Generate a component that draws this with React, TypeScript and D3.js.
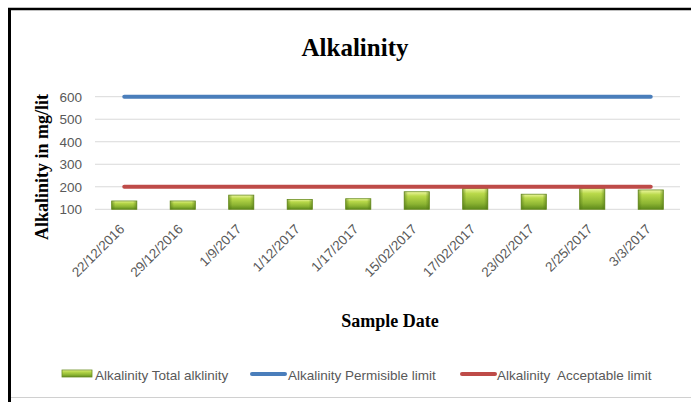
import React from "react";
import * as d3 from "d3";

const categories = [
  "22/12/2016", "29/12/2016", "1/9/2017", "1/12/2017", "1/17/2017",
  "15/02/2017", "17/02/2017", "23/02/2017", "2/25/2017", "3/3/2017",
];
const totalAlkalinity = [137, 137, 163, 144, 147, 178, 193, 167, 193, 186];
const permissibleLimit = [600, 600, 600, 600, 600, 600, 600, 600, 600, 600];
const acceptableLimit = [200, 200, 200, 200, 200, 200, 200, 200, 200, 200];
const yTicks = [100, 200, 300, 400, 500, 600];
const legendLabels = [
  "Alkalinity Total alklinity",
  "Alkalinity Permisible limit",
  "Alkalinity  Acceptable limit",
];

const W = 691;
const H = 402;
const plot = { left: 95, right: 680, top: 96.7, bottom: 209.3 };
const sans = "'Liberation Sans', Arial, sans-serif";
const serif = "'Liberation Serif', 'Times New Roman', serif";

export default function App() {
  const x = d3.scaleBand<string>().domain(categories).range([plot.left, plot.right]);
  const y = d3.scaleLinear().domain([100, 600]).range([plot.bottom, plot.top]);
  const bw = x.bandwidth() * 0.43;
  const cx = (c: string) => (x(c) as number) + x.bandwidth() / 2;

  const line = d3
    .line<number>()
    .x((_, i) => cx(categories[i]))
    .y((d) => y(d));

  return (
    <svg
      width={W}
      height={H}
      style={{ position: "absolute", left: 0, top: 0, background: "#fff" }}
    >
      <defs>
        <linearGradient id="barGrad" x1="0" y1="0" x2="0" y2="1">
          <stop offset="0%" stopColor="#eef7a0" />
          <stop offset="25%" stopColor="#b9d94a" />
          <stop offset="70%" stopColor="#8cb432" />
          <stop offset="100%" stopColor="#5e8a1c" />
        </linearGradient>
        <linearGradient id="barSide" x1="0" y1="0" x2="1" y2="0">
          <stop offset="0%" stopColor="#4f7414" stopOpacity="0.55" />
          <stop offset="15%" stopColor="#4f7414" stopOpacity="0" />
          <stop offset="85%" stopColor="#4f7414" stopOpacity="0" />
          <stop offset="100%" stopColor="#4f7414" stopOpacity="0.55" />
        </linearGradient>
      </defs>

      {/* chart frame */}
      <line x1={9.5} y1={8} x2={9.5} y2={H} stroke="#000" strokeWidth={3} />
      <line x1={8} y1={9} x2={W} y2={9} stroke="#000" strokeWidth={2.5} />
      <line x1={11} y1={397.5} x2={W} y2={397.5} stroke="#d0d0d0" strokeWidth={1} />

      {/* title */}
      <text
        x={355}
        y={56}
        textAnchor="middle"
        fontFamily={serif}
        fontWeight="bold"
        fontSize={25}
        fill="#000"
      >
        Alkalinity
      </text>

      {/* gridlines */}
      {yTicks.map((t) => (
        <line
          key={t}
          x1={plot.left}
          x2={plot.right}
          y1={y(t)}
          y2={y(t)}
          stroke="#d9d9d9"
          strokeWidth={1}
        />
      ))}

      {/* y tick labels */}
      {yTicks.map((t) => (
        <text
          key={t}
          x={82}
          y={y(t)}
          dy="0.36em"
          textAnchor="end"
          fontFamily={sans}
          fontSize={13.5}
          fill="#595959"
        >
          {t}
        </text>
      ))}

      {/* bars */}
      {categories.map((c, i) => {
        const bx = cx(c) - bw / 2;
        const by = y(totalAlkalinity[i]);
        const bh = y(100) - by;
        return (
          <g key={c}>
            <rect x={bx} y={by} width={bw} height={bh} fill="url(#barGrad)" stroke="#6b8e23" strokeWidth={0.8} />
            <rect x={bx} y={by} width={bw} height={bh} fill="url(#barSide)" />
          </g>
        );
      })}

      {/* limit lines */}
      <path d={line(permissibleLimit) || ""} fill="none" stroke="#4a7ebb" strokeWidth={4} strokeLinecap="round" />
      <path d={line(acceptableLimit) || ""} fill="none" stroke="#be4b48" strokeWidth={4} strokeLinecap="round" />

      {/* x tick labels */}
      {categories.map((c) => (
        <text
          key={c}
          transform={`translate(${cx(c) + 1},${230}) rotate(-45)`}
          textAnchor="end"
          fontFamily={sans}
          fontSize={13.5}
          fill="#595959"
        >
          {c}
        </text>
      ))}

      {/* axis titles */}
      <text
        transform={`translate(${48},${167}) rotate(-90)`}
        textAnchor="middle"
        fontFamily={serif}
        fontWeight="bold"
        fontSize={18}
        fill="#000"
      >
        Alkalinity in mg/lit
      </text>
      <text
        x={390}
        y={327}
        textAnchor="middle"
        fontFamily={serif}
        fontWeight="bold"
        fontSize={18}
        fill="#000"
      >
        Sample Date
      </text>

      {/* legend */}
      <g>
        <rect x={62} y={370} width={30} height={7} fill="url(#barGrad)" stroke="#6b8e23" strokeWidth={0.8} />
        <text x={95} y={380} fontFamily={sans} fontSize={13.5} fill="#595959">
          {legendLabels[0]}
        </text>
        <line x1={252} x2={285} y1={374} y2={374} stroke="#4a7ebb" strokeWidth={4} strokeLinecap="round" />
        <text x={288} y={380} fontFamily={sans} fontSize={13.5} fill="#595959">
          {legendLabels[1]}
        </text>
        <line x1={462} x2={495} y1={374} y2={374} stroke="#be4b48" strokeWidth={4} strokeLinecap="round" />
        <text x={497} y={380} fontFamily={sans} fontSize={13.5} fill="#595959" xmlSpace="preserve">
          {legendLabels[2]}
        </text>
      </g>
    </svg>
  );
}
